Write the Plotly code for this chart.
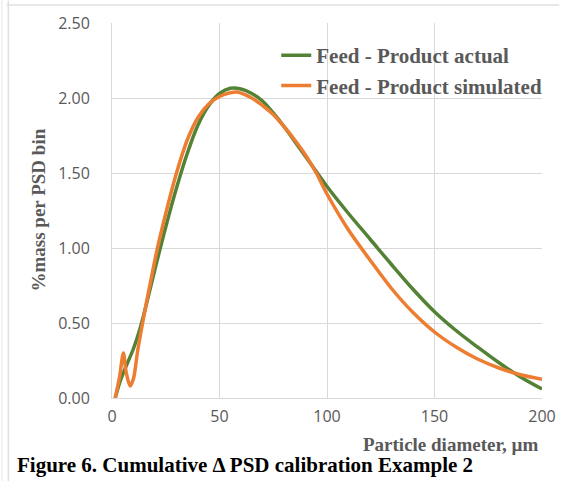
import plotly.graph_objects as go

# Data
actual_x = [1.5, 4, 6.8, 10, 13, 15.4, 20, 25, 30, 35, 40, 45, 50, 55, 60, 65, 70, 75, 80,
            85, 90, 95, 100, 110, 120, 130, 140, 150, 160, 170, 180, 190, 200]
actual_y = [0.0, 0.12, 0.22, 0.33, 0.46, 0.59, 0.86, 1.14, 1.40, 1.63, 1.82, 1.95, 2.03, 2.065,
            2.06, 2.03, 1.98, 1.90, 1.81, 1.71, 1.61, 1.51, 1.41, 1.23, 1.06, 0.89, 0.725, 0.575,
            0.45, 0.34, 0.235, 0.14, 0.06]

sim_x = [1.5, 3.5, 5.3, 6.6, 8.4, 10, 12, 15.4, 18, 21, 25, 30, 35, 40, 45, 50, 55, 58, 65,
         70, 75, 80, 85, 90, 95, 100, 110, 120, 130, 140, 150, 160, 170, 180, 190, 200]
sim_y = [0.0, 0.14, 0.30, 0.17, 0.08, 0.13, 0.32, 0.59, 0.78, 0.99, 1.23, 1.50, 1.72, 1.87,
         1.96, 2.01, 2.035, 2.04, 2.00, 1.95, 1.89, 1.81, 1.72, 1.62, 1.50, 1.36, 1.12, 0.92,
         0.73, 0.57, 0.44, 0.34, 0.26, 0.20, 0.155, 0.125]

x_ticks = [0, 50, 100, 150, 200]
y_ticks = [0, 0.5, 1.0, 1.5, 2.0, 2.5]
y_tick_labels = ["0.00", "0.50", "1.00", "1.50", "2.00", "2.50"]

GREEN = "#548235"
ORANGE = "#ED7D31"
GREY = "#595959"
GRID = "#D9D9D9"
SERIF = "Liberation Serif, Times New Roman, serif"
SANS = "Open Sans, Noto Sans, sans-serif"

fig = go.Figure()
fig.add_trace(go.Scatter(x=actual_x, y=actual_y, mode="lines", name="Feed - Product actual",
                         line=dict(color=GREEN, width=3.5, shape="spline", smoothing=1.0)))
fig.add_trace(go.Scatter(x=sim_x, y=sim_y, mode="lines", name="Feed - Product simulated",
                         line=dict(color=ORANGE, width=3.5, shape="spline", smoothing=0.8)))

fig.update_layout(
    width=569, height=481,
    margin=dict(l=112, r=27, t=23, b=83),
    paper_bgcolor="white", plot_bgcolor="white",
    showlegend=True,
    legend=dict(x=0.382, y=0.968, xanchor="left", yanchor="top",
                font=dict(family=SERIF, size=21, color=GREY, weight="bold"),
                bgcolor="rgba(0,0,0,0)", itemwidth=30),
    xaxis=dict(range=[0, 200], tickvals=x_ticks, showgrid=True, gridcolor=GRID, gridwidth=1,
               zeroline=False, showline=True, linecolor=GRID, linewidth=1,
               tickfont=dict(family=SANS, size=16, color=GREY), ticks="", ticklabelstandoff=4),
    yaxis=dict(range=[0, 2.5], tickvals=y_ticks, ticktext=y_tick_labels, showgrid=True,
               gridcolor=GRID, gridwidth=1, zeroline=False, showline=True, linecolor=GRID,
               tickfont=dict(family=SANS, size=16, color=GREY), ticks="", ticklabelstandoff=18),
    annotations=[
        dict(text="%mass per PSD bin", xref="paper", yref="paper", x=-0.172, y=0.5,
             textangle=-90, showarrow=False, xanchor="center", yanchor="middle",
             font=dict(family=SERIF, size=19, color=GREY, weight="bold")),
        dict(text="Particle diameter, µm", xref="paper", yref="paper", x=0.997, y=-0.124,
             showarrow=False, xanchor="right", yanchor="middle",
             font=dict(family=SERIF, size=19, color=GREY, weight="bold")),
        dict(text="Figure 6. Cumulative \u0394 PSD calibration Example 2", xref="paper",
             yref="paper", x=-0.226, y=-0.178, showarrow=False, xanchor="left",
             yanchor="middle", font=dict(family=SERIF, size=21, color="black", weight="bold")),
    ],
    shapes=[
        dict(type="line", xref="paper", yref="paper", x0=-0.241, x1=-0.241, y0=-0.23, y1=1.06,
             line=dict(color="#E0E0E0", width=1.5)),
        dict(type="line", xref="paper", yref="paper", x0=-0.245, x1=1.04, y0=1.048, y1=1.048,
             line=dict(color="#E0E0E0", width=1.5)),
        dict(type="line", xref="paper", yref="paper", x0=-0.256, x1=-0.256, y0=-0.23, y1=1.06,
             line=dict(color="#E6E6E6", width=1)),
    ],
)

fig.write_html("out.html")
